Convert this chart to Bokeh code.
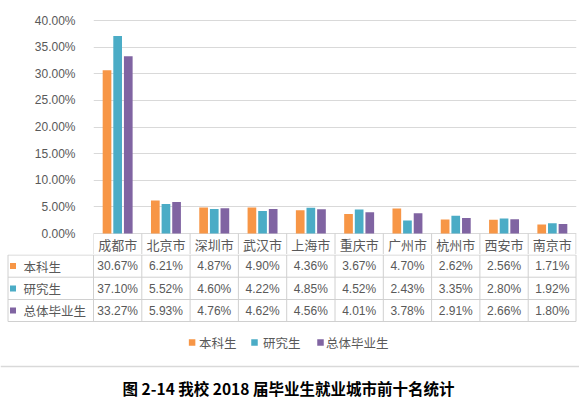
from bokeh.plotting import figure
from bokeh.models import FactorRange, Range1d, FixedTicker, PrintfTickFormatter, ColumnDataSource
from bokeh.transform import dodge
from bokeh.embed import file_html
from bokeh.resources import INLINE
from bokeh.core.properties import value

# ---------------- data ----------------
cities = ["成都市", "北京市", "深圳市", "武汉市", "上海市", "重庆市", "广州市", "杭州市", "西安市", "南京市"]
series_names = ["本科生", "研究生", "总体毕业生"]
undergrad = [30.67, 6.21, 4.87, 4.90, 4.36, 3.67, 4.70, 2.62, 2.56, 1.71]
graduate = [37.10, 5.52, 4.60, 4.22, 4.85, 4.52, 2.43, 3.35, 2.80, 1.92]
overall = [33.27, 5.93, 4.76, 4.62, 4.56, 4.01, 3.78, 2.91, 2.66, 1.80]
y_ticks = [0, 5, 10, 15, 20, 25, 30, 35, 40]
colors = ["#F79646", "#4BACC6", "#8064A2"]
title_text = "图 2-14 我校 2018 届毕业生就业城市前十名统计"

# ---------------- layout constants ----------------
W = 579
LEFT = 93
RIGHT = 3
H0 = 6
H1 = 248
H2 = 144
PX = 5.325          # pixels per percentage point
ZERO_Y = 227        # pixel row of 0% in the chart figure
CW = (W - LEFT - RIGHT) / 10.0
TXT = "#595959"
LINE = "#D0D0D0"
CJK = value("Noto Sans CJK SC")
LAT = value("Liberation Sans")

y_start = -(H1 - ZERO_Y) / PX
y_end = ZERO_Y / PX

# ---------------- thin top border strip ----------------
t = figure(width=W, height=H0, x_range=Range1d(0, 1), y_range=Range1d(H0, 0),
           output_backend="svg", toolbar_location=None,
           x_axis_location=None, y_axis_location=None, min_border=0,
           outline_line_color=None, background_fill_color="white", border_fill_color="white")
t.grid.visible = False
t.segment(x0=[0], y0=[4], x1=[1], y1=[4], line_color="#D3D3D3", line_width=1.5)

# ---------------- chart figure ----------------
p = figure(width=W, height=H1, x_range=FactorRange(factors=cities),
           y_range=Range1d(y_start, y_end), output_backend="svg",
           toolbar_location=None, x_axis_location=None,
           min_border_left=LEFT, min_border_right=RIGHT, min_border_top=0, min_border_bottom=0,
           outline_line_color=None, background_fill_color="white", border_fill_color="white")

p.yaxis.ticker = FixedTicker(ticks=y_ticks)
p.yaxis.formatter = PrintfTickFormatter(format="%.2f%%")
p.yaxis.axis_line_color = None
p.yaxis.major_tick_line_color = None
p.yaxis.minor_tick_line_color = None
p.yaxis.major_label_standoff = 12
p.yaxis.major_label_text_font = "Liberation Sans"
p.yaxis.major_label_text_font_size = "12px"
p.yaxis.major_label_text_color = TXT
p.ygrid.ticker = FixedTicker(ticks=y_ticks)
p.ygrid.grid_line_color = "#D9D9D9"
p.xgrid.visible = False

src = ColumnDataSource(dict(city=cities, s0=undergrad, s1=graduate, s2=overall))
for key, off, col in zip(["s0", "s1", "s2"], [-0.22, 0.0, 0.22], colors):
    p.vbar(x=dodge("city", off, range=p.x_range), top=key, width=0.18,
           source=src, fill_color=col, line_color=None)

# header row of the data table (category names)
p.text(x="city", y=y_start / 2, text="city", source=src, text_align="center",
       text_baseline="middle", text_font=CJK, text_font_size="13px", text_color=TXT)
p.segment(x0=dodge("city", -0.5, range=p.x_range), y0=0,
          x1=dodge("city", -0.5, range=p.x_range), y1=y_start,
          source=src, line_color=LINE, line_width=1)
last = ColumnDataSource(dict(city=[cities[-1]]))
p.segment(x0=dodge("city", 0.49, range=p.x_range), y0=0,
          x1=dodge("city", 0.49, range=p.x_range), y1=y_start,
          source=last, line_color=LINE, line_width=1)

# ---------------- table / legend / caption figure ----------------
x0 = -LEFT / CW
x1 = 10 + RIGHT / CW


def xpx(px):
    return x0 + px / CW


q = figure(width=W, height=H2, x_range=Range1d(x0, x1), y_range=Range1d(H2, 0),
           output_backend="svg", toolbar_location=None,
           x_axis_location=None, y_axis_location=None, min_border=0,
           outline_line_color=None, background_fill_color="white", border_fill_color="white")
q.grid.visible = False

row_lines = [0.5, 22.7, 45, 67]
row_mid = [11.5, 34, 56]
right_edge = 10 - 0.01
q.segment(x0=[xpx(7.5)] * len(row_lines), y0=row_lines,
          x1=[right_edge] * len(row_lines), y1=row_lines, line_color=LINE, line_width=1)
vx = [xpx(7.5)] + list(range(10)) + [right_edge]
q.segment(x0=vx, y0=[row_lines[0]] * len(vx), x1=vx, y1=[row_lines[-1]] * len(vx),
          line_color=LINE, line_width=1)

centers = [i + 0.5 for i in range(len(cities))]
for r, (name, vals, col) in enumerate(zip(series_names, [undergrad, graduate, overall], colors)):
    q.text(x=centers, y=[row_mid[r]] * len(vals), text=[f"{v:.2f}%" for v in vals],
           text_align="center", text_baseline="middle", text_font=LAT,
           text_font_size="12px", text_color=TXT)
    q.scatter(x=[xpx(12.5)], y=[row_mid[r]], marker="square", size=6,
              fill_color=col, line_color=None)
    q.text(x=[xpx(23)], y=[row_mid[r]], text=[name], text_align="left",
           text_baseline="middle", text_font=CJK, text_font_size="12.5px", text_color=TXT)

# legend
leg_sq = [191.6, 254, 320]
leg_tx = [198.5, 262.5, 325.5]
for name, col, sx, tx in zip(series_names, colors, leg_sq, leg_tx):
    q.scatter(x=[xpx(sx)], y=[88], marker="square", size=6.5, fill_color=col, line_color=None)
    q.text(x=[xpx(tx)], y=[88], text=[name], text_align="left", text_baseline="middle",
           text_font=CJK, text_font_size="12.5px", text_color=TXT)

# separator and caption
q.segment(x0=[x0], y0=[112], x1=[x1], y1=[112], line_color="#D9D9D9", line_width=1.5)
q.text(x=[xpx(288)], y=[133], text=[title_text], text_align="center", text_baseline="middle",
       text_font=CJK, text_font_size="15.5px", text_font_style="bold", text_color="#000000")

open("out.html", "w").write(file_html([t, p, q], INLINE))
